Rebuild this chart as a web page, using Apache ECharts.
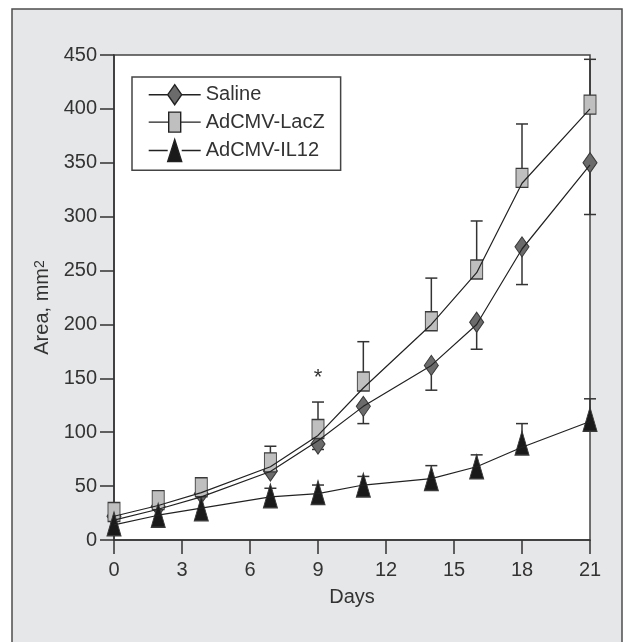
<!DOCTYPE html>
<html>
<head>
<meta charset="utf-8">
<script src="https://cdn.jsdelivr.net/npm/echarts@6/dist/echarts.min.js"></script>
<style>
  html, body { margin: 0; padding: 0; background: #fff; }
  #main { width: 623px; height: 642px; }
</style>
</head>
<body>
<div id="main"></div>
<script>
var days = [0, 1.95, 3.85, 6.9, 9, 11, 14, 16, 18, 21];

// mean values shown by the markers
var saline = [22, 31, 43, 64, 89, 124, 162, 202, 272, 350];
var lacz = [26, 37, 49, 72, 103, 147, 203, 251, 336, 404];
var il12 = [15, 23, 29, 41, 44, 51, 57, 68, 90, 112];

// end of the error bars (saline drawn downward, the others upward)
var salineLow = [null, null, null, null, 84, 108, 139, 177, 237, 302];
var laczHigh = [null, null, null, 87, 128, 184, 243, 296, 386, 446];
var il12High = [null, null, null, 48, 51, 59, 69, 79, 108, 131];

// the connecting curves (they do not pass exactly through the markers)
var salineFit = [18.5, 28.5, 40, 63.5, 92, 124, 162, 200, 270, 348];
var laczFit = [22, 32, 44, 68, 97, 141, 200, 248, 331, 400];
var il12Fit = [14, 23, 29.5, 40, 43, 51, 57, 68, 86, 110];

var xTicks = [0, 3, 6, 9, 12, 15, 18, 21];
var yTicks = [0, 50, 100, 150, 200, 250, 300, 350, 400, 450];

// significance mark
var stars = [[9, 150]];

var textColor = '#333';
var fontFamily = '"Liberation Sans", Arial, sans-serif';

function pairs(xs, ys) {
    var out = [];
    for (var i = 0; i < xs.length; i++) {
        if (ys[i] != null) out.push([xs[i], ys[i]]);
    }
    return out;
}

function errData(xs, ys, ends) {
    var out = [];
    for (var i = 0; i < xs.length; i++) {
        if (ends[i] != null) out.push([xs[i], ys[i], ends[i]]);
    }
    return out;
}

function errorBar(params, api) {
    var x = api.value(0);
    var p0 = api.coord([x, api.value(1)]);
    var p1 = api.coord([x, api.value(2)]);
    var cap = 12;
    var style = { stroke: '#333', lineWidth: 1.5 };
    return {
        type: 'group',
        children: [
            { type: 'line', shape: { x1: p0[0], y1: p0[1], x2: p1[0], y2: p1[1] }, style: style },
            { type: 'line', shape: { x1: p1[0] - cap / 2, y1: p1[1], x2: p1[0] + cap / 2, y2: p1[1] }, style: style }
        ]
    };
}

function fitLine(name, values) {
    return {
        name: name,
        type: 'line',
        data: pairs(days, values),
        showSymbol: false,
        symbol: 'none',
        silent: true,
        z: 4,
        lineStyle: { color: '#222', width: 1.2 },
        itemStyle: { color: '#222' }
    };
}

function markers(name, values, symbol, size, color) {
    return {
        name: name,
        type: 'scatter',
        data: pairs(days, values),
        symbol: symbol,
        symbolSize: size,
        silent: true,
        z: 3,
        itemStyle: { color: color, borderColor: '#3a3a3a', borderWidth: 1.1, opacity: 1 }
    };
}

function bars(name, values, ends) {
    return {
        name: name,
        type: 'custom',
        data: errData(days, values, ends),
        renderItem: errorBar,
        encode: { x: 0, y: [1, 2] },
        silent: true,
        z: 2
    };
}

var chart = echarts.init(document.getElementById('main'));

var option = {
    backgroundColor: '#fff',
    animation: false,
    textStyle: { fontFamily: fontFamily, color: textColor },
    graphic: [
        {
            type: 'rect',
            z: -10,
            shape: { x: 12, y: 9, width: 610, height: 700 },
            style: { fill: '#e6e7e8', stroke: '#4d4d4d', lineWidth: 1.5 }
        }
    ],
    grid: {
        left: 114,
        right: 33,
        top: 55,
        bottom: 102,
        show: true,
        backgroundColor: '#fff',
        borderColor: '#444',
        borderWidth: 1.5
    },
    legend: {
        left: 132,
        top: 77,
        orient: 'vertical',
        selectedMode: false,
        backgroundColor: '#fff',
        borderColor: '#444',
        borderWidth: 1.5,
        borderRadius: 0,
        padding: [7, 16, 8, 16],
        itemWidth: 52,
        itemHeight: 22,
        itemGap: 6,
        textStyle: { fontSize: 20, color: textColor, fontFamily: fontFamily },
        data: [
            {
                name: 'Saline',
                icon: 'path://M0 11H19M33 11H52M26 1L33 11L26 21L19 11Z',
                itemStyle: { color: '#6b6b6b', borderColor: '#222', borderWidth: 1.4 }
            },
            {
                name: 'AdCMV-LacZ',
                icon: 'path://M0 11H20M32 11H52M20 1H32V21H20Z',
                itemStyle: { color: '#bfbfbf', borderColor: '#222', borderWidth: 1.4 }
            },
            {
                name: 'AdCMV-IL12',
                icon: 'path://M0 11H19M33 11H52M26 0L33 22H19Z',
                itemStyle: { color: '#1a1a1a', borderColor: '#222', borderWidth: 1.4 }
            }
        ]
    },
    xAxis: {
        type: 'value',
        min: 0,
        max: 21,
        interval: 3,
        name: 'Days',
        nameLocation: 'middle',
        nameGap: 47,
        nameTextStyle: { fontSize: 20, color: textColor },
        splitLine: { show: false },
        axisLine: { lineStyle: { color: '#333', width: 1.5 } },
        axisTick: { show: true, inside: false, length: 14, lineStyle: { color: '#333', width: 1.5 } },
        axisLabel: {
            fontSize: 20,
            color: textColor,
            margin: 20,
            formatter: function (v) { return xTicks.indexOf(v) >= 0 ? String(v) : ''; }
        }
    },
    yAxis: {
        type: 'value',
        min: 0,
        max: 450,
        interval: 50,
        name: 'Area, mm{sup|2}',
        nameLocation: 'middle',
        nameGap: 58,
        nameRotate: 90,
        nameTextStyle: {
            fontSize: 20,
            color: textColor,
            padding: [0, 20, 0, 0],
            rich: {
                sup: { fontSize: 14, color: textColor, verticalAlign: 'top', lineHeight: 14 }
            }
        },
        splitLine: { show: false },
        axisLine: { show: true, lineStyle: { color: '#333', width: 1.5 } },
        axisTick: { show: true, inside: false, length: 14, lineStyle: { color: '#333', width: 1.5 } },
        axisLabel: {
            fontSize: 20,
            color: textColor,
            margin: 17,
            formatter: function (v) { return yTicks.indexOf(v) >= 0 ? String(v) : ''; }
        }
    },
    series: [
        bars('Saline SE', saline, salineLow),
        bars('AdCMV-LacZ SE', lacz, laczHigh),
        bars('AdCMV-IL12 SE', il12, il12High),
        markers('Saline pts', saline, 'diamond', [14, 20], '#6b6b6b'),
        markers('AdCMV-LacZ pts', lacz, 'rect', [12, 19], '#bfbfbf'),
        markers('AdCMV-IL12 pts', il12, 'triangle', [14, 24], '#1a1a1a'),
        fitLine('Saline', salineFit),
        fitLine('AdCMV-LacZ', laczFit),
        fitLine('AdCMV-IL12', il12Fit),
        {
            name: 'star',
            type: 'custom',
            data: stars,
            silent: true,
            z: 5,
            renderItem: function (params, api) {
                var p = api.coord([api.value(0), api.value(1)]);
                return {
                    type: 'text',
                    x: p[0],
                    y: p[1],
                    style: {
                        text: '*',
                        fontSize: 22,
                        fontFamily: fontFamily,
                        fill: '#333',
                        align: 'center',
                        verticalAlign: 'middle'
                    }
                };
            }
        }
    ]
};

chart.setOption(option);
</script>
</body>
</html>
